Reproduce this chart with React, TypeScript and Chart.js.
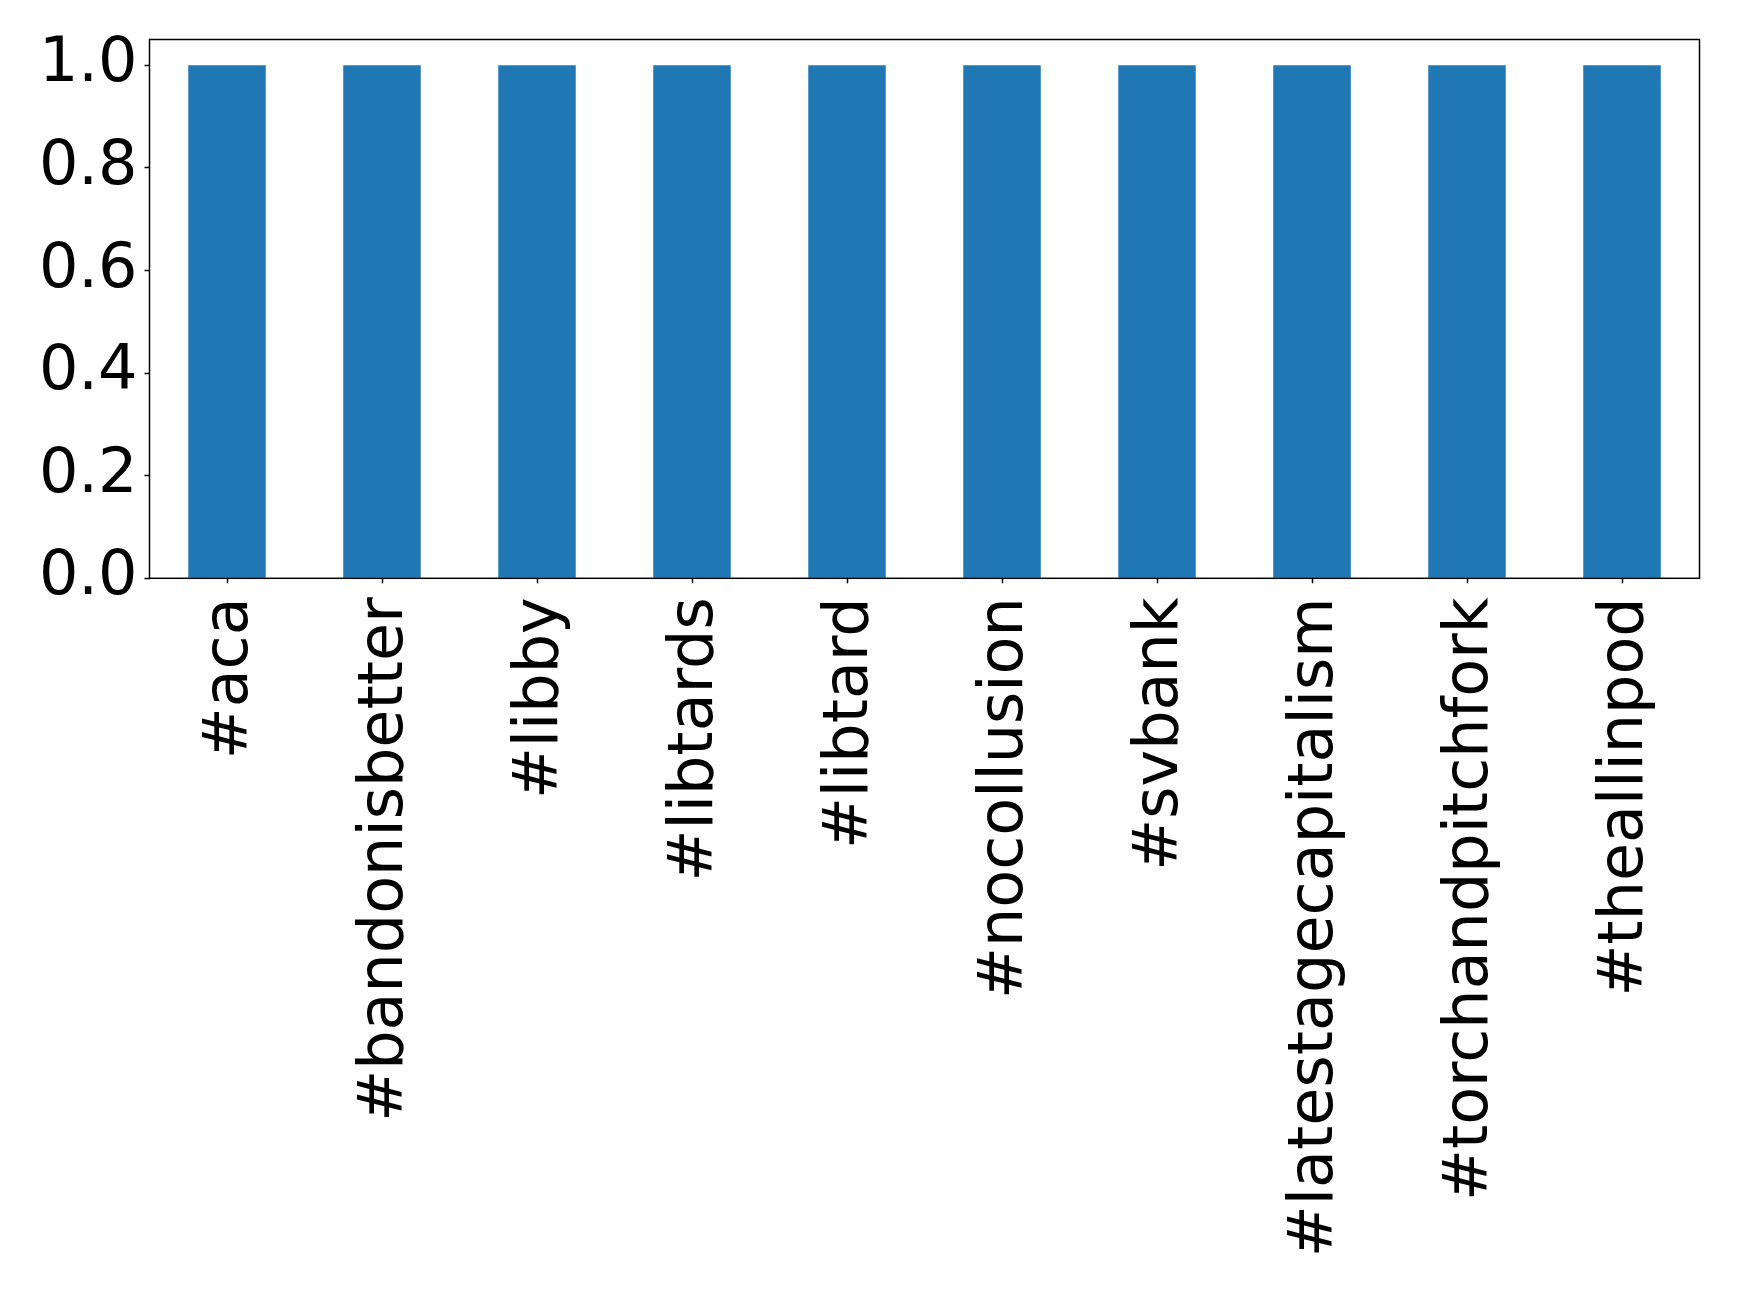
import React, { useEffect, useRef } from "react";
import { Chart, registerables } from "chart.js";

Chart.register(...registerables);

const categories = [
  "#aca",
  "#bandonisbetter",
  "#libby",
  "#libtards",
  "#libtard",
  "#nocollusion",
  "#svbank",
  "#latestagecapitalism",
  "#torchandpitchfork",
  "#theallinpod",
];
const values = [1, 1, 1, 1, 1, 1, 1, 1, 1, 1];
const yTicks = [0, 0.2, 0.4, 0.6, 0.8, 1.0];

const W = 1739;
const H = 1293;
const FONT = "'DejaVu Sans', sans-serif";

const framePlugin = {
  id: "frame",
  afterDatasetsDraw(chart: any) {
    const { ctx, chartArea } = chart;
    ctx.save();
    ctx.strokeStyle = "#000";
    ctx.lineWidth = 1.5;
    ctx.strokeRect(chartArea.left, chartArea.top, chartArea.right - chartArea.left, chartArea.bottom - chartArea.top);
    ctx.restore();
  },
};

export default function App() {
  const ref = useRef<HTMLCanvasElement | null>(null);
  useEffect(() => {
    if (!ref.current) return;
    const chart = new Chart(ref.current, {
      type: "bar",
      data: {
        labels: categories,
        datasets: [
          {
            data: values,
            backgroundColor: "#1f77b4",
            barPercentage: 0.5,
            categoryPercentage: 1.0,
          },
        ],
      },
      options: {
        animation: false,
        responsive: false,
        devicePixelRatio: 1,
        layout: { padding: { left: 0, right: 39.5, top: 39.5, bottom: 0 } },
        plugins: { legend: { display: false }, tooltip: { enabled: false } },
        scales: {
          x: {
            offset: true,
            border: { display: false },
            grid: {
              display: true,
              drawOnChartArea: false,
              drawTicks: true,
              tickLength: 5,
              tickWidth: 1.5,
              color: "#000",
              offset: false,
            },
            ticks: {
              autoSkip: false,
              minRotation: 90,
              maxRotation: 90,
              padding: 14,
              labelOffset: 4,
              color: "#000",
              font: { family: FONT, size: 62 },
            },
            afterFit(scale: any) {
              scale.height = H - 578.3;
              scale.paddingLeft = 0;
              scale.paddingRight = 0;
            },
          },
          y: {
            min: 0,
            max: 1.05,
            border: { display: false },
            grid: {
              display: true,
              drawOnChartArea: false,
              drawTicks: true,
              tickLength: 5,
              tickWidth: 1.5,
              color: "#000",
            },
            ticks: {
              includeBounds: false,
              padding: 7,
              color: "#000",
              font: { family: FONT, size: 62 },
              callback: (v: any) => Number(v).toFixed(1),
            },
            afterBuildTicks(scale: any) {
              scale.ticks = yTicks.map((v) => ({ value: v }));
            },
            afterFit(scale: any) {
              scale.width = 149.5;
              scale.paddingTop = 0;
              scale.paddingBottom = 0;
            },
          },
        },
      },
      plugins: [framePlugin],
    });
    return () => chart.destroy();
  }, []);
  return (
    <div style={{ position: "absolute", left: 0, top: 0, width: W, height: H, background: "#fff" }}>
      <canvas ref={ref} width={W} height={H} style={{ width: W, height: H, display: "block" }} />
    </div>
  );
}
